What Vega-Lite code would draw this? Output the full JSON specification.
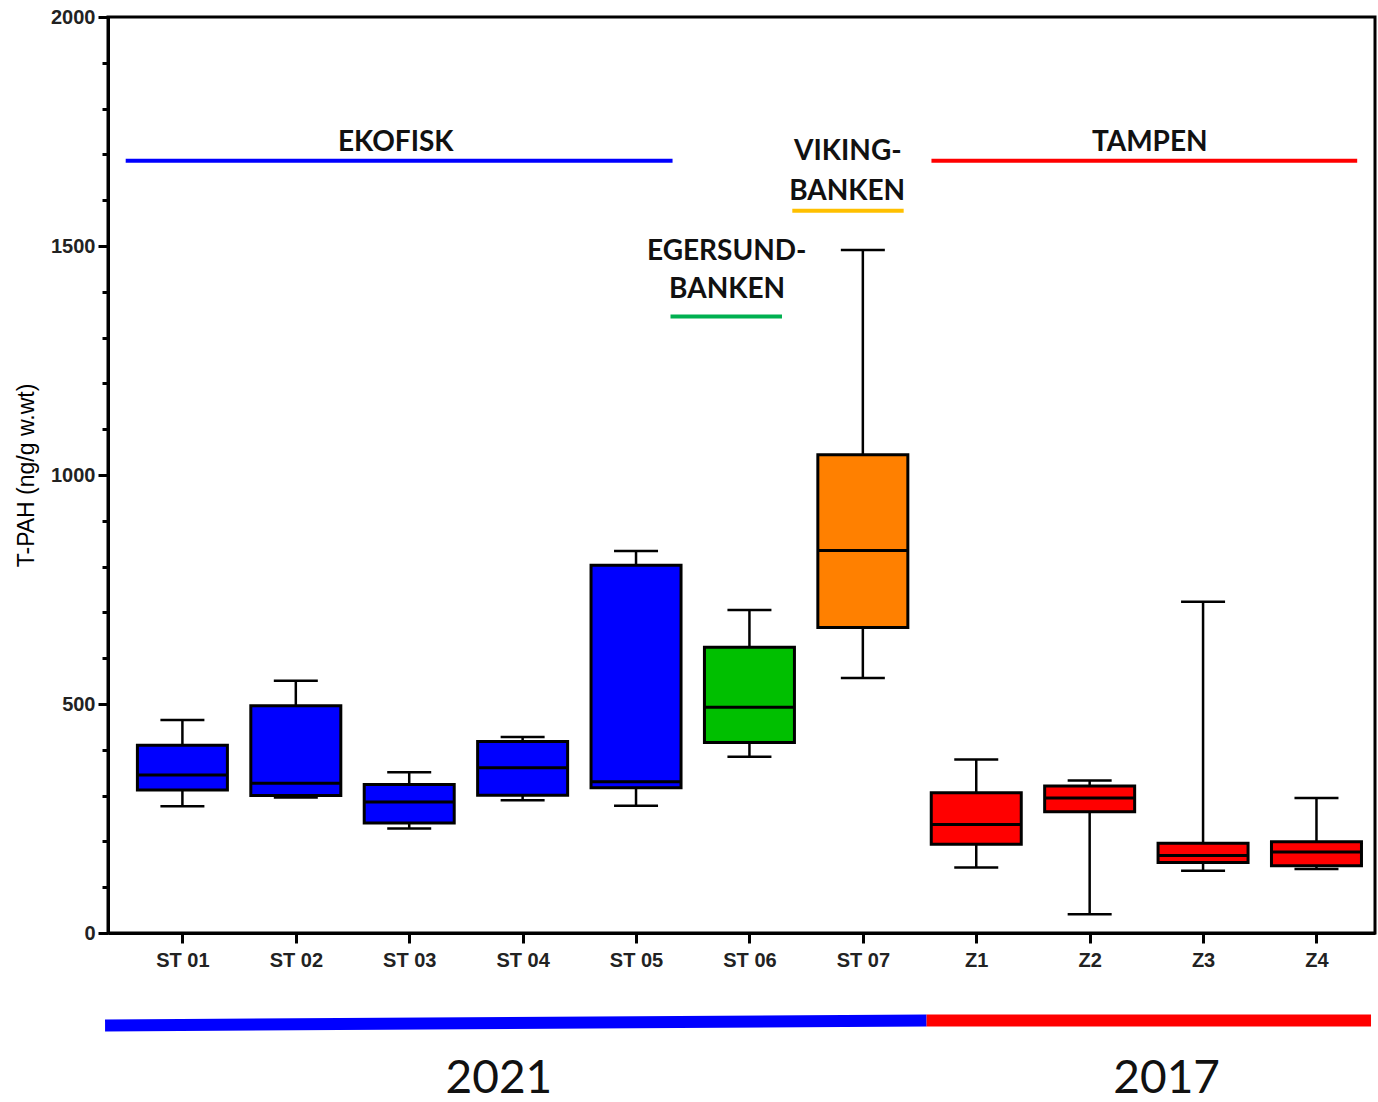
{
  "$schema": "https://vega.github.io/schema/vega-lite/v6.json",
  "width": 1267,
  "height": 916,
  "autosize": {"type": "none"},
  "padding": {"left": 108, "top": 17, "right": 3, "bottom": 169},
  "background": "white",
  "config": {
    "view": {"stroke": "black", "strokeWidth": 3},
    "font": "Liberation Sans"
  },
  "datasets": {
    "boxes": [
      {"i": 0, "station": "ST 01", "grp": "EKOFISK", "min": 277, "q1": 312, "median": 345, "q3": 410, "max": 465},
      {"i": 1, "station": "ST 02", "grp": "EKOFISK", "min": 296, "q1": 300, "median": 327, "q3": 496, "max": 551},
      {"i": 2, "station": "ST 03", "grp": "EKOFISK", "min": 228, "q1": 240, "median": 286, "q3": 324, "max": 351},
      {"i": 3, "station": "ST 04", "grp": "EKOFISK", "min": 290, "q1": 301, "median": 361, "q3": 418, "max": 428},
      {"i": 4, "station": "ST 05", "grp": "EKOFISK", "min": 278, "q1": 317, "median": 330, "q3": 803, "max": 834},
      {"i": 5, "station": "ST 06", "grp": "EGERSUND", "min": 385, "q1": 416, "median": 493, "q3": 624, "max": 705},
      {"i": 6, "station": "ST 07", "grp": "VIKING", "min": 557, "q1": 667, "median": 835, "q3": 1044, "max": 1491},
      {"i": 7, "station": "Z1", "grp": "TAMPEN", "min": 143, "q1": 194, "median": 237, "q3": 306, "max": 379},
      {"i": 8, "station": "Z2", "grp": "TAMPEN", "min": 41, "q1": 265, "median": 295, "q3": 321, "max": 333},
      {"i": 9, "station": "Z3", "grp": "TAMPEN", "min": 136, "q1": 154, "median": 169, "q3": 196, "max": 723},
      {"i": 10, "station": "Z4", "grp": "TAMPEN", "min": 140, "q1": 147, "median": 177, "q3": 199, "max": 295}
    ],
    "lines": [
      {"line": "EKOFISK", "x": -0.5, "x2": 4.322, "y": 1686},
      {"line": "EGERSUND", "x": 4.304, "x2": 5.287, "y": 1346},
      {"line": "VIKING", "x": 5.378, "x2": 6.36, "y": 1577},
      {"line": "TAMPEN", "x": 6.605, "x2": 10.359, "y": 1686}
    ],
    "bars": [
      {"year": "2021", "x": -0.682, "x2": 6.562, "y": -202, "y2": -191},
      {"year": "2017", "x": 6.562, "x2": 10.481, "y": -191, "y2": -191}
    ],
    "sites": [
      {"text": "EKOFISK", "x": 1.881, "y": 1708},
      {"text": "TAMPEN", "x": 8.53, "y": 1708},
      {"text": "VIKING-", "x": 5.868, "y": 1688},
      {"text": "BANKEN", "x": 5.862, "y": 1600},
      {"text": "EGERSUND-", "x": 4.8, "y": 1469},
      {"text": "BANKEN", "x": 4.803, "y": 1386}
    ],
    "years": [
      {"text": "2021", "x": 2.791, "y": -350},
      {"text": "2017", "x": 8.679, "y": -350}
    ]
  },
  "layer": [
    {
      "data": {"name": "boxes"},
      "mark": {"type": "rule", "color": "black", "strokeWidth": 2.5},
      "encoding": {
        "x": {
          "field": "i", "type": "quantitative", "title": null,
          "scale": {"domain": [-0.612, 10.472], "nice": false, "zero": false},
          "axis": {
            "values": [0, 1, 2, 3, 4, 5, 6, 7, 8, 9, 10],
            "labelExpr": "['ST 01','ST 02','ST 03','ST 04','ST 05','ST 06','ST 07','Z1','Z2','Z3','Z4'][datum.value]",
            "grid": false,
            "domainColor": "black", "domainWidth": 3,
            "tickColor": "black", "tickWidth": 3, "tickSize": 10,
            "labelFont": "Liberation Sans", "labelFontSize": 20, "labelFontWeight": "bold",
            "labelColor": "#222222", "labelPadding": 7, "labelOverlap": false, "labelFlush": false
          }
        },
        "y": {
          "field": "min", "type": "quantitative", "title": "T-PAH (ng/g w.wt)",
          "scale": {"domain": [0, 2000], "nice": false, "zero": false},
          "axis": {
            "values": [0, 50, 100, 150, 200, 250, 300, 350, 400, 450, 500, 550, 600, 650, 700, 750, 800, 850, 900, 950, 1000, 1050, 1100, 1150, 1200, 1250, 1300, 1350, 1400, 1450, 1500, 1550, 1600, 1650, 1700, 1750, 1800, 1850, 1900, 1950, 2000],
            "format": "d",
            "labelExpr": "datum.value % 500 === 0 ? datum.label : ''",
            "grid": false,
            "domainColor": "black", "domainWidth": 3,
            "tickColor": "black", "tickWidth": 3,
            "tickSize": {"condition": {"test": "datum.value % 500 === 0", "value": 10}, "value": 6},
            "labelFont": "Liberation Sans", "labelFontSize": 20, "labelFontWeight": "bold",
            "labelColor": "#222222", "labelPadding": 3, "labelOverlap": false, "labelFlush": false,
            "titleFont": "Liberation Sans", "titleFontSize": 23, "titleFontWeight": "normal",
            "titleColor": "black", "titlePadding": 12
          }
        },
        "y2": {"field": "max"}
      }
    },
    {
      "data": {"name": "boxes"},
      "mark": {"type": "bar", "width": 90, "stroke": "black", "strokeWidth": 3},
      "encoding": {
        "x": {"field": "i", "type": "quantitative", "title": null},
        "y": {"field": "q1", "type": "quantitative", "title": "T-PAH (ng/g w.wt)"},
        "y2": {"field": "q3"},
        "color": {
          "field": "grp", "type": "nominal", "legend": null,
          "scale": {"domain": ["EKOFISK", "EGERSUND", "VIKING", "TAMPEN"], "range": ["#0000FF", "#00BF00", "#FF8000", "#FF0000"]}
        }
      }
    },
    {
      "data": {"name": "boxes"},
      "mark": {"type": "tick", "orient": "horizontal", "size": 90, "thickness": 3, "color": "black", "opacity": 1},
      "encoding": {
        "x": {"field": "i", "type": "quantitative", "title": null},
        "y": {"field": "median", "type": "quantitative", "title": "T-PAH (ng/g w.wt)"}
      }
    },
    {
      "data": {"name": "boxes"},
      "transform": [{"fold": ["min", "max"], "as": ["stat", "val"]}],
      "mark": {"type": "tick", "orient": "horizontal", "size": 44, "thickness": 2.5, "color": "black", "opacity": 1},
      "encoding": {
        "x": {"field": "i", "type": "quantitative", "title": null},
        "y": {"field": "val", "type": "quantitative", "title": "T-PAH (ng/g w.wt)"}
      }
    },
    {
      "data": {"name": "lines"},
      "mark": {"type": "rule", "strokeWidth": 4, "strokeCap": "butt"},
      "encoding": {
        "x": {"field": "x", "type": "quantitative", "title": null},
        "x2": {"field": "x2"},
        "y": {"field": "y", "type": "quantitative", "title": "T-PAH (ng/g w.wt)"},
        "color": {
          "field": "line", "type": "nominal", "legend": null,
          "scale": {"domain": ["EKOFISK", "EGERSUND", "VIKING", "TAMPEN"], "range": ["#0000FF", "#00B050", "#FFC000", "#FF0000"]}
        }
      }
    },
    {
      "data": {"name": "bars"},
      "mark": {"type": "rule", "strokeWidth": 12, "strokeCap": "butt"},
      "encoding": {
        "x": {"field": "x", "type": "quantitative", "title": null},
        "x2": {"field": "x2"},
        "y": {"field": "y", "type": "quantitative", "title": "T-PAH (ng/g w.wt)"},
        "y2": {"field": "y2"},
        "color": {
          "field": "year", "type": "nominal", "legend": null,
          "scale": {"domain": ["2021", "2017"], "range": ["#0000FF", "#FF0000"]}
        }
      }
    },
    {
      "data": {"name": "sites"},
      "mark": {"type": "text", "font": "Lato", "fontSize": 28, "fontWeight": "bold", "align": "center", "baseline": "alphabetic", "color": "#111111"},
      "encoding": {
        "x": {"field": "x", "type": "quantitative", "title": null},
        "y": {"field": "y", "type": "quantitative", "title": "T-PAH (ng/g w.wt)"},
        "text": {"field": "text"}
      }
    },
    {
      "data": {"name": "years"},
      "mark": {"type": "text", "font": "Lato", "fontSize": 46, "fontWeight": "normal", "align": "center", "baseline": "alphabetic", "color": "#111111"},
      "encoding": {
        "x": {"field": "x", "type": "quantitative", "title": null},
        "y": {"field": "y", "type": "quantitative", "title": "T-PAH (ng/g w.wt)"},
        "text": {"field": "text"}
      }
    }
  ],
  "resolve": {"scale": {"color": "independent"}}
}
